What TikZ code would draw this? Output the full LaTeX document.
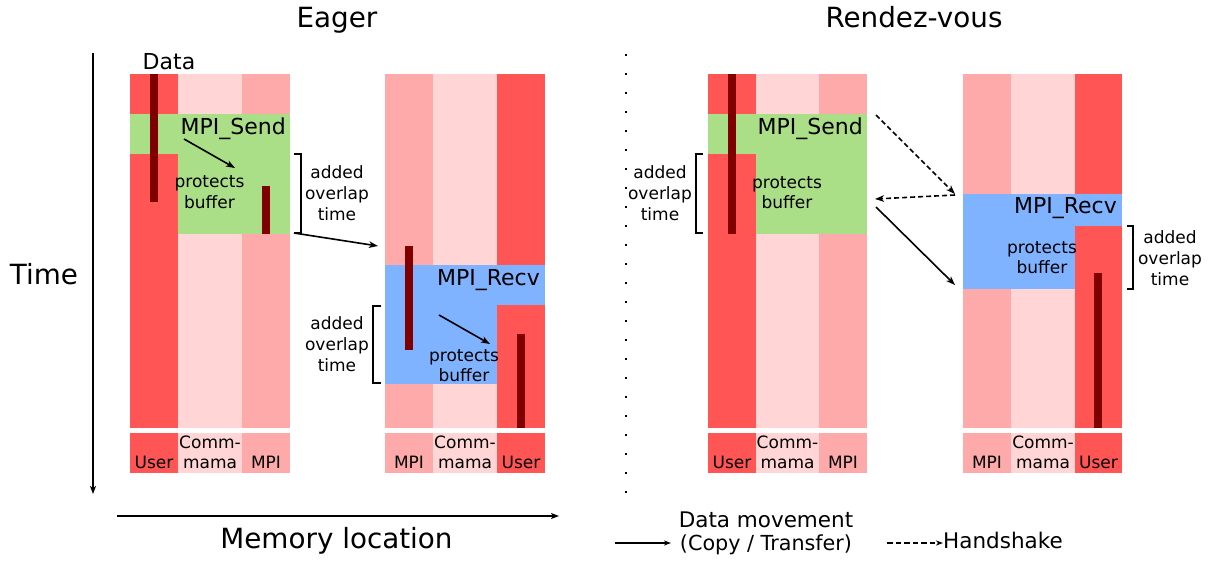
\documentclass[tikz,border=0pt]{standalone}
\usepackage{fontspec}
\setmainfont{DejaVu Sans}
\usetikzlibrary{arrows.meta}
\definecolor{userred}{HTML}{FF5555}
\definecolor{mpipink}{HTML}{FFAAAA}
\definecolor{commpink}{HTML}{FFD5D5}
\definecolor{sendgreen}{HTML}{AADE87}
\definecolor{recvblue}{HTML}{80B3FF}
\definecolor{databar}{HTML}{800000}
\tikzset{
  fbig/.style={font=\fontsize{27.8}{33}\selectfont},
  fmid/.style={font=\fontsize{22}{26}\selectfont},
  fleg/.style={font=\fontsize{20.7}{25}\selectfont},
  fsmall/.style={font=\fontsize{17}{21}\selectfont},
  txt/.style={inner sep=0pt, anchor=base},
  flow/.style={line width=1.6pt, -{Stealth[length=9pt,width=6.5pt,inset=2.5pt]}},
  shake/.style={flow, dash pattern=on 5pt off 3pt},
  legflow/.style={line width=1.4pt, -{Stealth[length=7pt,width=5pt,inset=2pt]}},
  legshake/.style={legflow, dash pattern=on 5.5pt off 3pt},
  axisline/.style={line width=1.6pt, -{Stealth[length=8pt,width=6pt,inset=2pt]}},
  brk/.style={line width=1.8pt},
}
% one memory column with its label box underneath
\newcommand\memcol[3]{%
  \fill[#1] (#2,74) rectangle (#3,428);
  \fill[#1] (#2,433) rectangle (#3,473);}
\begin{document}
\begin{tikzpicture}[x=1pt,y=-1pt]
\useasboundingbox (0,0) rectangle (1212,567);

% ---------------- titles and axes ----------------
\node[txt,fbig] (eagerT) at (337,28) {Eager};
\node[txt,fbig] (rdvT) at (914,28) {Rendez-vous};
\node[txt,fbig] (timeT) at (44,284) {Time};
\node[txt,fbig] (memT) at (336.5,548) {Memory location};
\coordinate (tTop) at (93,53);
\coordinate (tBot) at (93,494);
\draw[axisline] (tTop) -- (tBot);
\coordinate (mL) at (117,516);
\coordinate (mR) at (559,516);
\draw[axisline] (mL) -- (mR);

% separator
\foreach \k in {0,...,23} \fill (625,54+19*\k) rectangle +(2.2,2.2);

% ---------------- eager: sender ----------------
\memcol{userred}{130}{178}
\memcol{commpink}{178}{242}
\memcol{mpipink}{242}{290}
\fill[sendgreen] (130,114) rectangle (290,154);
\fill[sendgreen] (178,154) rectangle (290,234);
\fill[databar] (150,74) rectangle (158,202);
\fill[databar] (262,186) rectangle (270,234);
\node[txt,fmid] (dataT) at (169,70) {Data};
\node[txt,fmid,anchor=base east] (esend) at (286,135) {MPI\_Send};
\node[txt,fsmall] (eprotA) at (209.5,187) {protects};
\node[txt,fsmall] (eprotB) at (209.5,208) {buffer};
\coordinate (es1) at (184,139);
\coordinate (es2) at (235,168);
\draw[flow] (es1) -- (es2);
\draw[brk] (294,154) -- (301,154) -- (301,233) -- (294,233);
\node[txt,fsmall] (eaddA) at (337,178) {added};
\node[txt,fsmall] (eaddB) at (337,199) {overlap};
\node[txt,fsmall] (eaddC) at (337,220) {time};
\node[txt,fsmall] (eu1) at (154,468) {User};
\node[txt,fsmall] (ec1) at (210,448) {Comm-};
\node[txt,fsmall] (ec1b) at (210,468) {mama};
\node[txt,fsmall] (em1) at (266,468) {MPI};

% ---------------- eager: receiver ----------------
\memcol{mpipink}{385}{433}
\memcol{commpink}{433}{497}
\memcol{userred}{497}{545}
\fill[recvblue] (385,265) rectangle (545,305);
\fill[recvblue] (385,305) rectangle (497,384);
\fill[databar] (405,246) rectangle (413,350);
\fill[databar] (517,334) rectangle (525,428);
\node[txt,fmid,anchor=base east] (erecv) at (540,285) {MPI\_Recv};
\node[txt,fsmall] (rprotA) at (464,361) {protects};
\node[txt,fsmall] (rprotB) at (464,381) {buffer};
\coordinate (er1) at (439,315);
\coordinate (er2) at (490,344);
\draw[flow] (er1) -- (er2);
\draw[brk] (381,306) -- (373,306) -- (373,383) -- (381,383);
\node[txt,fsmall] (raddA) at (337,329) {added};
\node[txt,fsmall] (raddB) at (337,350) {overlap};
\node[txt,fsmall] (raddC) at (337,371) {time};
\node[txt,fsmall] (em2) at (409,468) {MPI};
\node[txt,fsmall] (ec2) at (465,448) {Comm-};
\node[txt,fsmall] (ec2b) at (465,468) {mama};
\node[txt,fsmall] (eu2) at (521,468) {User};
% copy from sender to receiver
\coordinate (ex1) at (294,233);
\coordinate (ex2) at (378,246);
\draw[flow] (ex1) -- (ex2);

% ---------------- rendez-vous: sender ----------------
\memcol{userred}{708}{756}
\memcol{commpink}{756}{819}
\memcol{mpipink}{819}{867}
\fill[sendgreen] (708,114) rectangle (867,154);
\fill[sendgreen] (756,154) rectangle (867,234);
\fill[databar] (728,74) rectangle (736,234);
\node[txt,fmid,anchor=base east] (rsend) at (863,135) {MPI\_Send};
\node[txt,fsmall] (sprotA) at (787,188) {protects};
\node[txt,fsmall] (sprotB) at (787,208) {buffer};
\draw[brk] (703,154) -- (696,154) -- (696,233) -- (703,233);
\node[txt,fsmall] (saddA) at (660,178) {added};
\node[txt,fsmall] (saddB) at (660,199) {overlap};
\node[txt,fsmall] (saddC) at (660,220) {time};
\node[txt,fsmall] (ru1) at (732,468) {User};
\node[txt,fsmall] (rc1) at (787.5,448) {Comm-};
\node[txt,fsmall] (rc1b) at (787.5,468) {mama};
\node[txt,fsmall] (rm1) at (843,468) {MPI};

% ---------------- rendez-vous: receiver ----------------
\memcol{mpipink}{963}{1011}
\memcol{commpink}{1011}{1075}
\memcol{userred}{1075}{1122}
\fill[recvblue] (963,194) rectangle (1122,226);
\fill[recvblue] (963,226) rectangle (1075,289);
\fill[databar] (1094,273) rectangle (1102,428);
\node[txt,fmid,anchor=base east] (rrecv) at (1117,213) {MPI\_Recv};
\node[txt,fsmall] (qprotA) at (1042,253) {protects};
\node[txt,fsmall] (qprotB) at (1042,273) {buffer};
\draw[brk] (1127,226) -- (1133,226) -- (1133,289) -- (1127,289);
\node[txt,fsmall] (qaddA) at (1170,243) {added};
\node[txt,fsmall] (qaddB) at (1170,264) {overlap};
\node[txt,fsmall] (qaddC) at (1170,285) {time};
\node[txt,fsmall] (rm2) at (987,468) {MPI};
\node[txt,fsmall] (rc2) at (1043,448) {Comm-};
\node[txt,fsmall] (rc2b) at (1043,468) {mama};
\node[txt,fsmall] (ru2) at (1098.5,468) {User};

% handshake and transfer
\coordinate (h1) at (876,115);
\coordinate (h2) at (955,194);
\coordinate (h3) at (955,195);
\coordinate (h4) at (875,199);
\coordinate (h5) at (876,207);
\coordinate (h6) at (955,285);
\draw[shake] (h1) -- (h2);
\draw[shake] (h3) -- (h4);
\draw[flow] (h5) -- (h6);

% ---------------- legend ----------------
\coordinate (l1) at (615,543);
\coordinate (l2) at (671,543);
\draw[legflow] (l1) -- (l2);
\node[txt,font=\fontsize{21.5}{25}\selectfont] (legA) at (766,527) {Data movement};
\node[txt,fleg] (legB) at (766,550) {(Copy / Transfer)};
\coordinate (l3) at (887,543);
\coordinate (l4) at (943,543);
\draw[legshake] (l3) -- (l4);
\node[txt,font=\fontsize{21.5}{25}\selectfont,anchor=base west] (legC) at (943,548) {Handshake};
\end{tikzpicture}
\end{document}
